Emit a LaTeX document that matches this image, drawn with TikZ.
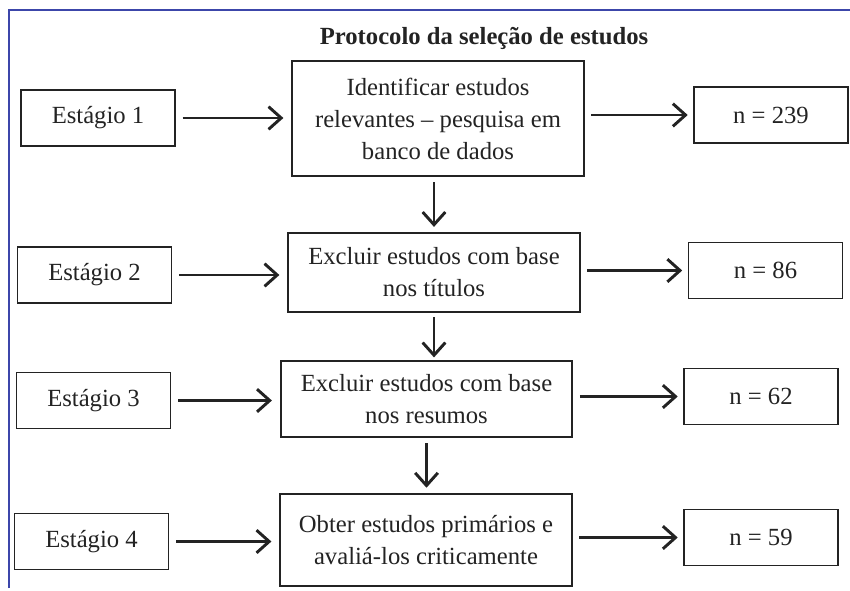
\documentclass[tikz,border=0pt]{standalone}
\usepackage{fontspec}
\setmainfont{Liberation Serif}
\usepackage{xcolor}
\usetikzlibrary{positioning,arrows.meta}
\definecolor{framecol}{RGB}{60,70,170}
\definecolor{ink}{RGB}{35,35,35}

\begin{document}
\begin{tikzpicture}[x=0.75pt,y=-0.75pt,
    box/.style={draw=ink, line width=1.4pt, inner sep=2pt, text=ink, align=center,
        font=\fontsize{18.5}{24}\selectfont},
    stagebox/.style={box, minimum width=115.5pt, minimum height=42pt},
    mainbox/.style={box, minimum width=218.5pt},
    arr/.style={draw=ink, line width=2.2pt, -{Straight Barb[length=9.5pt,width=17pt]},
        shorten <=5pt, shorten >=6pt}]
    \useasboundingbox (0,0) rectangle (850,590);
    % Frame
    \draw [framecol, line width=0.8pt] (9,588) -- (9,10) -- (850,10);
    % Title
    \node [text=ink, font=\fontsize{18.5}{24}\selectfont\bfseries] (title) at (484,38) {Protocolo da seleção de estudos};
    % Stages
    \node [stagebox] (st1) at (98,118) {Estágio 1};
    \node [stagebox] (st2) at (94.5,275) {Estágio 2};
    \node [stagebox] (st3) at (93.5,400.5) {Estágio 3};
    \node [stagebox] (st4) at (91.5,541.5) {Estágio 4};
    % Steps
    \node [mainbox, minimum height=86pt] (p1) at (438,118.5) {Identificar estudos\\relevantes – pesquisa em\\banco de dados};
    \node [mainbox, minimum height=59pt] (p2) at (434,272.5) {Excluir estudos com base\\nos títulos};
    \node [mainbox, minimum height=57pt] (p3) at (426.5,399) {Excluir estudos com base\\nos resumos};
    \node [mainbox, minimum height=69pt] (p4) at (426,540) {Obter estudos primários e\\avaliá-los criticamente};
    % Counts
    \node [stagebox] (n1) at (771,115) {n = 239};
    \node [stagebox] (n2) at (765.5,270.5) {n = 86};
    \node [stagebox] (n3) at (761,396.5) {n = 62};
    \node [stagebox] (n4) at (761,537.5) {n = 59};
    % Arrows
    \draw [arr] (st1.east) -- (st1.east -| p1.west);
    \draw [arr] (st2.east) -- (st2.east -| p2.west);
    \draw [arr] (st3.east) -- (st3.east -| p3.west);
    \draw [arr] (st4.east) -- (st4.east -| p4.west);
    \draw [arr, shorten >=4pt] (n1.west -| p1.east) -- (n1.west);
    \draw [arr, shorten >=4pt] (n2.west -| p2.east) -- (n2.west);
    \draw [arr, shorten >=4pt] (n3.west -| p3.east) -- (n3.west);
    \draw [arr, shorten >=4pt] (n4.west -| p4.east) -- (n4.west);
    \draw [arr, shorten <=4pt, shorten >=4pt] (p2.north |- p1.south) -- (p2.north);
    \draw [arr, shorten <=3pt, shorten >=2pt] (p2.south) -- (p2.south |- p3.north);
    \draw [arr, shorten <=4pt, shorten >=4pt] (p3.south) -- (p3.south |- p4.north);
\end{tikzpicture}
\end{document}
